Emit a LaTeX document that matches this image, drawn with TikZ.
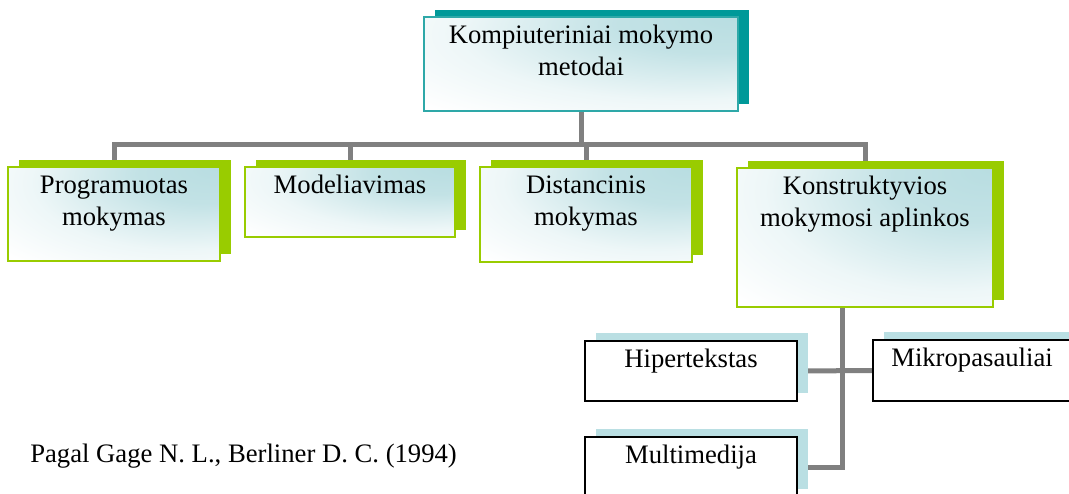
\documentclass[tikz,border=0pt]{standalone}
\usepackage{fontspec}
\setmainfont{Liberation Serif}
\usetikzlibrary{shadows,backgrounds,calc}
\definecolor{tealshadow}{HTML}{009999}
\definecolor{tealedge}{HTML}{2EA8A8}
\definecolor{limegreen}{HTML}{99CC00}
\definecolor{paleblue}{HTML}{BADFE3}
\definecolor{glow}{HTML}{B8DDE1}
\definecolor{linkgray}{HTML}{808080}
\pgfdeclareradialshading{cornerglow}{\pgfpoint{25bp}{25bp}}{color(0bp)=(glow); color(16bp)=(glow!85!white); color(36bp)=(glow!25!white); color(52bp)=(white); color(110bp)=(white)}
\newdimen\unitpx \unitpx=0.75pt
\newcommand\boxtxt[3]{\parbox[c][#2\unitpx][t]{#1\unitpx}{\centering\rule{0pt}{19.5pt}#3}}
\tikzset{
  topbox/.style={draw=tealedge, line width=1.5pt, shade, shading=cornerglow, inner sep=0pt,
    general shadow={fill=tealshadow, shadow xshift=8pt, shadow yshift=5.5pt}},
  methodbox/.style={draw=limegreen, line width=1.5pt, shade, shading=cornerglow, inner sep=0pt,
    general shadow={fill=limegreen, shadow xshift=8pt, shadow yshift=5.5pt}},
  envbox/.style={draw=black, fill=white, line width=1.2pt, inner sep=0pt,
    general shadow={fill=paleblue, shadow xshift=8pt, shadow yshift=6pt}},
  link/.style={draw=linkgray, line width=3.75pt}
}
\begin{document}
\begin{tikzpicture}[x=0.75pt, y=-0.75pt, font=\fontsize{20}{24}\selectfont]
\useasboundingbox (0,0) rectangle (1069,493);
\clip (0,0) rectangle (1069,493);
% boxes, centres in pixels
\node[topbox] (top) at (581,64) {\boxtxt{314}{94}{Kompiuteriniai mokymo\\metodai}};
\node[methodbox] (prog) at (114,214) {\boxtxt{212}{94}{Programuotas\\mokymas}};
\node[methodbox] (model) at (350,202) {\boxtxt{210}{70}{Modeliavimas}};
\node[methodbox] (dist) at (586,214.5) {\boxtxt{212}{95}{Distancinis\\mokymas}};
\node[methodbox] (konst) at (865,237.5) {\boxtxt{256}{139}{Konstruktyvios\\mokymosi aplinkos}};
\node[envbox] (hiper) at (691,371) {\boxtxt{212}{60}{Hipertekstas}};
\node[envbox] (mikro) at (972,370.5) {\boxtxt{198}{61}{Mikropasauliai}};
\node[envbox] (multi) at (691,467) {\boxtxt{212}{60}{Multimedija}};
\node[anchor=base west, inner sep=0pt] (source) at (30,462) {Pagal Gage N. L., Berliner D. C. (1994)};
\coordinate (spine) at ($(konst.south)+(-23,0)$);
\begin{scope}[on background layer]
\draw[link] (top.south) -- ++(0,32) -| (prog.north);
\draw[link] (top.south) -- ++(0,32) -| (model.north);
\draw[link] (top.south) -- ++(0,32) -| (dist.north);
\draw[link] (top.south) -- ++(0,32) -| (konst.north);
\draw[link] (spine) |- (multi.east);
\draw[link] (hiper.east) -- (mikro.west);
\end{scope}
\end{tikzpicture}
\end{document}
